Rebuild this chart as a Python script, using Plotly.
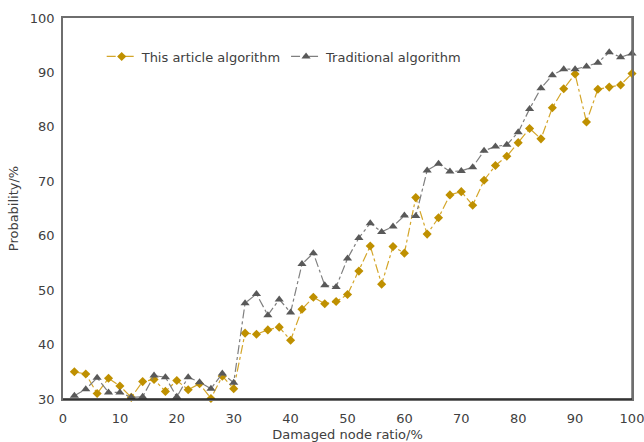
import plotly.graph_objects as go

ratio = list(range(2, 101, 2))
this_article = [35.0, 34.6, 31.0, 33.8, 32.4, 30.3, 33.2, 33.6, 31.4, 33.4,
                31.7, 32.8, 30.1, 34.2, 31.9, 42.1, 41.9, 42.7, 43.2, 40.8,
                46.5, 48.7, 47.5, 47.9, 49.2, 53.5, 58.1, 51.1, 58.0, 56.8,
                67.0, 60.3, 63.3, 67.5, 68.1, 65.6, 70.2, 72.9, 74.6, 77.1,
                79.7, 77.8, 83.5, 87.0, 89.7, 80.9, 86.9, 87.3, 87.7, 89.8]
traditional = [30.6, 31.8, 33.9, 31.2, 31.2, 30.3, 30.4, 34.3, 34.0, 30.4,
               34.0, 33.1, 31.9, 34.7, 33.0, 47.6, 49.3, 45.4, 48.3, 45.9,
               54.8, 56.8, 50.9, 50.6, 55.8, 59.6, 62.3, 60.7, 61.7, 63.7,
               63.6, 72.0, 73.2, 71.8, 71.9, 72.6, 75.6, 76.4, 76.7, 79.0,
               83.3, 87.1, 89.5, 90.6, 90.6, 91.1, 91.8, 93.7, 92.8, 93.5]

fig = go.Figure()
fig.add_trace(go.Scatter(
    x=ratio, y=this_article, name="This article algorithm",
    mode="lines+markers",
    line=dict(color="#D4A62A", width=1.2, dash="dashdot"),
    marker=dict(symbol="diamond", size=7, color="#BF9000"),
    cliponaxis=False,
))
fig.add_trace(go.Scatter(
    x=ratio, y=traditional, name="Traditional algorithm",
    mode="lines+markers",
    line=dict(color="#7F7F7F", width=1.2, dash="dashdot"),
    marker=dict(symbol="triangle-up", size=8, color="#595959"),
    cliponaxis=False,
))

fig.update_layout(
    width=644, height=442,
    margin=dict(l=63, r=12, t=18, b=43, autoexpand=False),
    paper_bgcolor="white", plot_bgcolor="white",
    font=dict(family="DejaVu Sans", size=13, color="#404040"),
    showlegend=True,
    legend=dict(orientation="h", x=0.068, y=0.899, xanchor="left", yanchor="middle",
                itemwidth=30, tracegroupgap=0,
                bgcolor="rgba(0,0,0,0)", font=dict(size=13, color="#404040")),
    shapes=[
        dict(type="line", xref="paper", yref="paper", x0=0, x1=1, y0=0, y1=0,
             line=dict(color="#202020", width=1.5), layer="above"),
        dict(type="line", xref="paper", yref="paper", x0=1, x1=1, y0=0, y1=1,
             line=dict(color="#6E6E6E", width=1.5), layer="below"),
    ],
)
fig.update_xaxes(
    range=[0, 100], tickvals=list(range(0, 101, 10)),
    showgrid=False, zeroline=False, automargin=False,
    showline=True, linecolor="#6E6E6E", linewidth=1.5, mirror=True,
    ticks="", ticklabelstandoff=7, ticklabeloverflow="allow",
    tickfont=dict(size=13, color="#404040"),
    title=dict(text="Damaged node ratio/%", font=dict(size=13, color="#404040"), standoff=16),
)
fig.update_yaxes(
    range=[30, 100], tickvals=list(range(30, 101, 10)),
    showgrid=False, zeroline=False, automargin=False,
    showline=True, linecolor="#6E6E6E", linewidth=1.5, mirror=True,
    ticks="", ticklabelstandoff=4, ticklabeloverflow="allow",
    tickfont=dict(size=13, color="#404040"),
    title=dict(text="Probability/%", font=dict(size=13, color="#404040"), standoff=8),
)

fig.write_html(
    "out.html",
    config={"displayModeBar": False},
    post_script="document.body.style.margin='0';document.body.style.overflow='hidden';",
)
